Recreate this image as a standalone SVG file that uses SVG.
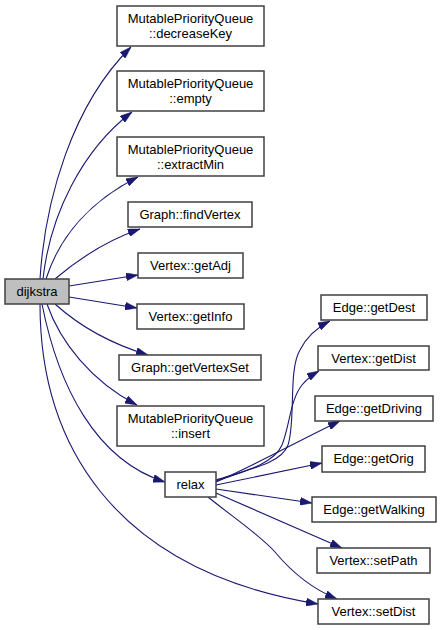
<svg xmlns="http://www.w3.org/2000/svg" width="441" height="630" viewBox="0 0 441 630">
<style>
.n rect{fill:#ffffff;stroke:#404040;stroke-width:1.5}
.n.h rect{fill:#bfbfbf}
.n text{font-family:"Liberation Sans",Arial,sans-serif;font-size:13px;fill:#000;text-anchor:middle}
.e path{fill:none;stroke:#191970;stroke-width:1.1;marker-end:url(#ah)}
</style>
<defs>
<marker id="ah" viewBox="0 0 12 8" refX="12" refY="4" markerWidth="12" markerHeight="8" markerUnits="userSpaceOnUse" orient="auto">
<path d="M0,0 L12,4 L0,8 Z" fill="#191970" stroke="#191970" stroke-width="0.5"/>
</marker>
</defs>
<rect width="441" height="630" fill="#ffffff"/>
<g id="edges" class="e">
<path d="M40,279 C45,200 72,105 131,47"/>
<path d="M43,279 C50,215 82,150 132,112"/>
<path d="M46,279 C60,235 92,200 138,177"/>
<path d="M55,279 C75,262 102,242 140,229"/>
<path d="M69,286 L138,275"/>
<path d="M69,297 L137,308"/>
<path d="M55,304 C75,322 105,342 148,355"/>
<path d="M47,304 C60,342 92,382 137,405"/>
<path d="M42,304 C58,385 95,460 165,482"/>
<path d="M40,304 C40,440 110,570 318,604"/>
<path d="M216,480 C255,468 282,462 288,445 C296,420 288,370 300,350 C306,338 316,328 330,321"/>
<path d="M216,481 C250,470 275,462 282,445 C290,425 290,400 302,385 C307,379 312,375 319,371"/>
<path d="M216,482 C255,465 300,440 340,421"/>
<path d="M216,485 L322,463"/>
<path d="M216,489 L312,503"/>
<path d="M216,493 L342,548"/>
<path d="M208,497 C230,515 260,535 275,552 C290,570 310,588 337,599"/>
</g>
<g id="dijkstra" class="n h"><rect x="5" y="279" width="64" height="25"/><text x="37" y="296">dijkstra</text></g>
<g id="decreaseKey" class="n"><rect x="117" y="6" width="147" height="40"/><text x="190.5" y="23">MutablePriorityQueue</text><text x="190.5" y="38">::decreaseKey</text></g>
<g id="empty" class="n"><rect x="117" y="71" width="147" height="40"/><text x="190.5" y="88">MutablePriorityQueue</text><text x="190.5" y="103">::empty</text></g>
<g id="extractMin" class="n"><rect x="117" y="137" width="147" height="39"/><text x="190.5" y="154">MutablePriorityQueue</text><text x="190.5" y="169">::extractMin</text></g>
<g id="findVertex" class="n"><rect x="128" y="202" width="124" height="25"/><text x="190" y="219">Graph::findVertex</text></g>
<g id="getAdj" class="n"><rect x="138" y="253" width="105" height="25"/><text x="190.5" y="270">Vertex::getAdj</text></g>
<g id="getInfo" class="n"><rect x="137" y="304" width="107" height="25"/><text x="190.5" y="321">Vertex::getInfo</text></g>
<g id="getVertexSet" class="n"><rect x="119" y="355" width="142" height="25"/><text x="190" y="372">Graph::getVertexSet</text></g>
<g id="insert" class="n"><rect x="117" y="406" width="147" height="40"/><text x="190.5" y="423">MutablePriorityQueue</text><text x="190.5" y="438">::insert</text></g>
<g id="relax" class="n"><rect x="165" y="472" width="51" height="25"/><text x="190.5" y="489">relax</text></g>
<g id="getDest" class="n"><rect x="321" y="295" width="106" height="25"/><text x="374" y="312">Edge::getDest</text></g>
<g id="getDist" class="n"><rect x="318" y="346" width="111" height="24"/><text x="373.5" y="362.5">Vertex::getDist</text></g>
<g id="getDriving" class="n"><rect x="315" y="396" width="118" height="25"/><text x="374" y="413">Edge::getDriving</text></g>
<g id="getOrig" class="n"><rect x="322" y="446" width="103" height="26"/><text x="373.5" y="463">Edge::getOrig</text></g>
<g id="getWalking" class="n"><rect x="312" y="497" width="124" height="25"/><text x="374" y="514">Edge::getWalking</text></g>
<g id="setPath" class="n"><rect x="317" y="548" width="113" height="25"/><text x="373.5" y="565">Vertex::setPath</text></g>
<g id="setDist" class="n"><rect x="318" y="599" width="111" height="25"/><text x="373.5" y="616">Vertex::setDist</text></g>
</svg>
